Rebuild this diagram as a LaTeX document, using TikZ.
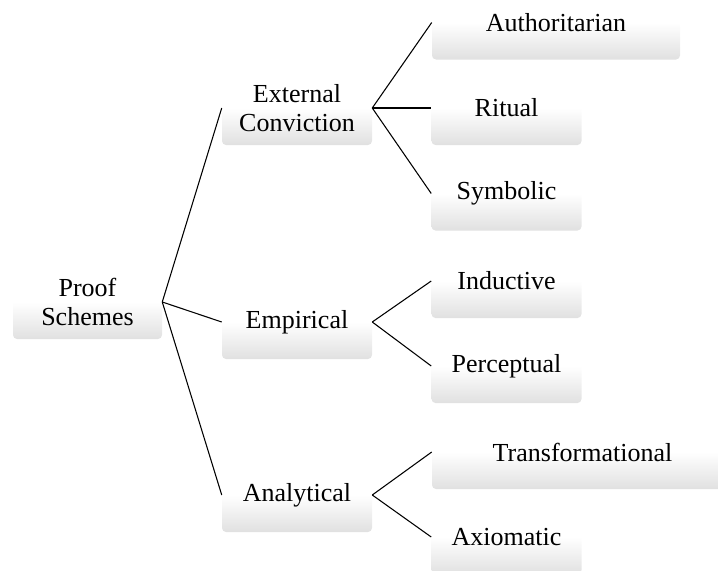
\documentclass[tikz,border=0pt]{standalone}
\usepackage{fontspec}
\setmainfont{Liberation Serif}
\pgfdeclareverticalshading{boxfade}{100bp}{%
  color(0bp)=(black!12); color(25bp)=(black!12); color(50bp)=(white); color(100bp)=(white)}
\begin{document}
\begin{tikzpicture}[x=0.75pt,y=-0.75pt,
  box/.style={shading=boxfade, rounded corners=3pt, inner sep=0pt,
    minimum width=112.5pt, minimum height=55.5pt, align=center,
    font=\fontsize{19.5}{21.75}\selectfont},
  link/.style={draw=black, line width=0.8pt}]
\useasboundingbox (0,0) rectangle (718,571);
\begin{scope}
\clip (0,0) rectangle (718,571);
% root
\node[box, minimum width=111.75pt] (ps) at (87.5,302) {Proof\\Schemes};
% second level
\node[box] (ec)  at (297,108) {External\\Conviction};
\node[box] (emp) at (297,322) {Empirical};
\node[box] (ana) at (297,495) {Analytical};
% leaves
\node[box, minimum width=186pt] (auth) at (556,22.5) {Authoritarian};
\node[box] (rit) at (506.5,108) {Ritual};
\node[box] (sym) at (506.5,193.5) {Symbolic};
\node[box] (ind) at (506.5,281) {Inductive};
\node[box] (per) at (506.5,366) {Perceptual};
\node[box, minimum width=225.75pt] (tra) at (582.5,452) {Transformational};
\node[box] (axi) at (506.5,537) {Axiomatic};
\end{scope}
% connectors
\foreach \c in {ec,emp,ana} \draw[link] (ps.east) -- (\c.west);
\foreach \c in {auth,rit,sym} \draw[link] (ec.east) -- (\c.west);
\foreach \c in {ind,per} \draw[link] (emp.east) -- (\c.west);
\foreach \c in {tra,axi} \draw[link] (ana.east) -- (\c.west);
\end{tikzpicture}
\end{document}
